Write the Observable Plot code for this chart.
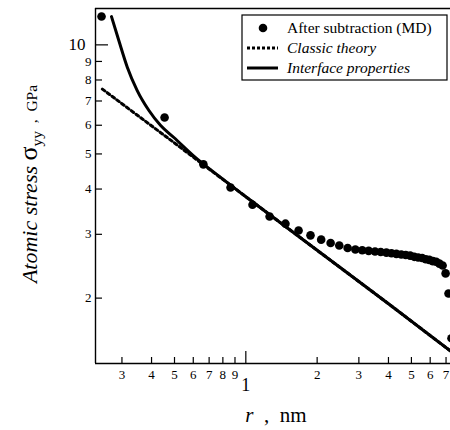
<!DOCTYPE html>
<html>
<head>
<meta charset="utf-8">
<script src="https://cdn.jsdelivr.net/npm/d3@7"></script>
<script src="https://cdn.jsdelivr.net/npm/@observablehq/plot@0.6"></script>
<style>
  html, body { margin: 0; padding: 0; background: white; overflow: hidden; }
  #chart svg { display: block; }
</style>
</head>
<body>
<div id="chart"></div>
<script>
// ---- Data ----
// MD points: r (nm) and sigma_yy (GPa)
const mdR = [0.246, 0.454, 0.662, 0.862, 1.067, 1.26, 1.47, 1.67, 1.875, 2.08, 2.28, 2.48, 2.69, 2.90,
             3.10, 3.30, 3.51, 3.71, 3.92, 4.12, 4.32, 4.53, 4.73, 4.94, 5.14, 5.34, 5.55, 5.75, 5.95,
             6.16, 6.36, 6.56, 6.77, 6.97, 7.17, 7.38];
const mdS = [11.97, 6.30, 4.68, 4.04, 3.62, 3.36, 3.21, 3.075, 2.98, 2.90, 2.84, 2.795, 2.75, 2.725,
             2.71, 2.70, 2.69, 2.68, 2.67, 2.66, 2.65, 2.64, 2.63, 2.62, 2.60, 2.59, 2.58, 2.56, 2.55,
             2.53, 2.52, 2.49, 2.46, 2.34, 2.06, 1.55];
// Classic theory (dotted)
const classicR = [0.248, 0.5, 1, 2, 4, 7.4];
const classicS = [7.55, 5.36, 3.81, 2.71, 1.93, 1.42];
// Interface properties (solid)
const interfaceR = [0.271, 0.291, 0.316, 0.348, 0.39, 0.437, 0.497, 0.6, 0.8, 1, 2, 4, 7.4];
const interfaceS = [11.97, 10.28, 8.68, 7.48, 6.59, 5.99, 5.55, 4.95, 4.26, 3.81, 2.71, 1.93, 1.42];

// Axis ticks and labels
const xMinorTicks = [0.3, 0.4, 0.5, 0.6, 0.7, 0.8, 0.9, 2, 3, 4, 5, 6, 7];
const xMinorLabels = ["3", "4", "5", "6", "7", "8", "9", "2", "3", "4", "5", "6", "7"];
const xMajorTicks = [1];
const xMajorLabels = ["1"];
const yMinorTicks = [2, 3, 4, 5, 6, 7, 8, 9];
const yMajorTicks = [10];
const xDomain = [0.232, 7.31];
const yDomain = [1.32, 12.6];

const legendLabels = ["After subtraction (MD)", "Classic theory", "Interface properties"];

// ---- Build tables ----
const md = mdR.map((r, i) => ({r, s: mdS[i]}));
const classic = classicR.map((r, i) => ({r, s: classicS[i]}));
const iface = interfaceR.map((r, i) => ({r, s: interfaceS[i]}));
const xMinor = xMinorTicks.map((t, i) => ({t, label: xMinorLabels[i]}));
const xMajor = xMajorTicks.map((t, i) => ({t, label: xMajorLabels[i]}));

const W = 450, H = 430, ML = 95, MR = 0, MT = 8, MB = 67;
const fw = W - ML - MR, fh = H - MT - MB;
const serif = "'Liberation Serif', 'Times New Roman', serif";

const svg = Plot.plot({
  width: W, height: H,
  marginLeft: ML, marginRight: MR, marginTop: MT, marginBottom: MB,
  style: {fontFamily: serif, color: "black", background: "white"},
  x: {type: "log", domain: xDomain, axis: null},
  y: {type: "log", domain: yDomain},
  marks: [
    // frame (top, left, bottom)
    Plot.ruleY([yDomain[1]], {stroke: "black", strokeWidth: 1.4}),
    Plot.ruleY([yDomain[0]], {stroke: "black", strokeWidth: 1.4}),
    Plot.ruleX([xDomain[0]], {stroke: "black", strokeWidth: 1.4}),
    // inward ticks
    Plot.tickY(yMinorTicks, {y: d => d, insetRight: fw - 7, stroke: "black", strokeWidth: 1.2}),
    Plot.tickY(yMajorTicks, {y: d => d, insetRight: fw - 13, stroke: "black", strokeWidth: 1.2}),
    Plot.tickX(xMinorTicks, {x: d => d, insetTop: fh - 6, stroke: "black", strokeWidth: 1.2}),
    Plot.tickX(xMajorTicks, {x: d => d, insetTop: fh - 12, stroke: "black", strokeWidth: 1.2}),
    // tick labels
    Plot.axisY(yMinorTicks, {anchor: "left", tickSize: 0, tickPadding: 4, fontSize: 13, label: null, tickFormat: d => String(d)}),
    Plot.axisY(yMajorTicks, {anchor: "left", tickSize: 0, tickPadding: 10, fontSize: 17, label: null, tickFormat: d => String(d)}),
    Plot.text(xMinor, {x: "t", text: "label", frameAnchor: "bottom", dy: 11, lineAnchor: "middle", fontSize: 13, fill: "black"}),
    Plot.text(xMajor, {x: "t", text: "label", frameAnchor: "bottom", dy: 22, lineAnchor: "middle", fontSize: 18, fill: "black"}),
    // data
    Plot.line(classic, {x: "r", y: "s", stroke: "black", strokeWidth: 3, strokeDasharray: "3,3"}),
    Plot.line(iface, {x: "r", y: "s", stroke: "black", strokeWidth: 3, curve: "monotone-x"}),
    Plot.dot(md, {x: "r", y: "s", r: 4.3, fill: "black", stroke: "none"})
  ]
});

const sel = d3.select(svg);

// x axis title
const xt = sel.append("text")
  .attr("x", 276).attr("y", 422)
  .attr("text-anchor", "middle")
  .attr("font-family", serif).attr("font-size", 21).attr("fill", "black")
  .style("white-space", "pre");
xt.append("tspan").attr("font-style", "italic").text("r");
xt.append("tspan").text("  ,  nm");

// y axis title
const yt = sel.append("text")
  .attr("transform", "translate(37,184) rotate(-90)")
  .attr("text-anchor", "middle")
  .attr("font-family", serif).attr("fill", "black")
  .style("white-space", "pre");
yt.append("tspan").attr("font-size", 22).attr("font-style", "italic").text("Atomic stress ");
yt.append("tspan").attr("font-size", 26).text("σ");
yt.append("tspan").attr("font-size", 15.5).attr("dy", 5).text("yy");
yt.append("tspan").attr("font-size", 15.5).attr("dy", -5).text("  ,  GPa");

// legend
const lg = sel.append("g").attr("text-anchor", "start");
lg.append("rect").attr("x", 242).attr("y", 15).attr("width", 205).attr("height", 65)
  .attr("fill", "white").attr("stroke", "black").attr("stroke-width", 1.2);
const rows = [28, 48, 68];
lg.append("circle").attr("cx", 263).attr("cy", rows[0]).attr("r", 4.3).attr("fill", "black");
lg.append("line").attr("x1", 247).attr("x2", 278).attr("y1", rows[1]).attr("y2", rows[1])
  .attr("stroke", "black").attr("stroke-width", 3).attr("stroke-dasharray", "3,2");
lg.append("line").attr("x1", 247).attr("x2", 278).attr("y1", rows[2]).attr("y2", rows[2])
  .attr("stroke", "black").attr("stroke-width", 3);
legendLabels.forEach((t, i) => {
  lg.append("text").attr("x", 287).attr("y", rows[i]).attr("dy", "0.35em")
    .attr("text-anchor", "start")
    .attr("font-family", serif).attr("font-size", 15.5)
    .attr("font-style", i === 0 ? "normal" : "italic")
    .attr("fill", "black").text(t);
});

document.getElementById("chart").appendChild(svg);
</script>
</body>
</html>
